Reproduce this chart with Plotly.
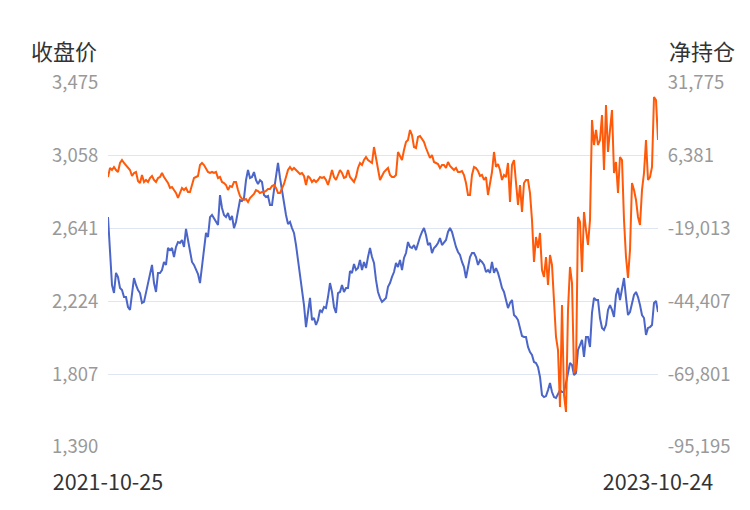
import pandas as pd
import plotly.graph_objects as go

start_date = "2021-10-25"
end_date = "2023-10-24"

# 收盘价 (left axis)
close = [
    2707, 2473, 2318, 2272, 2387, 2364, 2301, 2289, 2249, 2249, 2192, 2175, 2261, 2358, 2318, 2289,
    2272, 2215, 2221, 2272, 2318, 2364, 2433, 2329, 2278, 2387, 2387, 2404, 2450, 2433, 2530, 2518,
    2530, 2478, 2536, 2564, 2559, 2576, 2536, 2639, 2576, 2490, 2450, 2433, 2404, 2381, 2329, 2421,
    2501, 2616, 2593, 2707, 2719, 2702, 2679, 2662, 2833, 2759, 2719, 2707, 2730, 2690, 2713, 2644,
    2679, 2748, 2805, 2799, 2816, 2919, 2977, 2931, 2937, 2965, 2919, 2896, 2919, 2908, 2833, 2822,
    2828, 2776, 2776, 2862, 2948, 3017, 2931, 2851, 2793, 2719, 2667, 2679, 2644, 2616, 2547, 2461,
    2375, 2278, 2203, 2077, 2158, 2244, 2117, 2129, 2089, 2117, 2175, 2163, 2192, 2186, 2249, 2329,
    2278, 2192, 2158, 2272, 2278, 2318, 2278, 2301, 2301, 2398, 2387, 2438, 2404, 2415, 2461, 2404,
    2450, 2415, 2478, 2530, 2478, 2444, 2347, 2278, 2244, 2221, 2232, 2244, 2307, 2329, 2364, 2392,
    2444, 2421, 2461, 2404, 2473, 2501, 2564, 2536, 2530, 2547, 2518, 2559, 2593, 2622, 2644, 2604,
    2547, 2559, 2501, 2530, 2541, 2559, 2587, 2547, 2564, 2576, 2622, 2644, 2622, 2576, 2536, 2507,
    2490, 2450, 2421, 2358, 2421, 2478, 2501, 2501, 2478, 2433, 2461, 2450, 2433, 2392, 2404, 2387,
    2450, 2387, 2415, 2387, 2347, 2301, 2278, 2232, 2186, 2215, 2232, 2146, 2135, 2117, 2077, 2026,
    2020, 2020, 1963, 1934, 1917, 1877, 1871, 1848, 1791, 1688, 1676, 1682, 1716, 1757, 1705, 1676,
    1671, 1699, 1716, 1705, 1705, 1757, 1814, 1871, 1860, 1802, 1814, 1946, 1974, 2003, 1906, 2020,
    2020, 1963, 2158, 2244, 2232, 2232, 2129, 2072, 2060, 2089, 2175, 2203, 2175, 2135, 2261, 2301,
    2232, 2307, 2358, 2244, 2146, 2163, 2221, 2261, 2278, 2249, 2203, 2146, 2129, 2032, 2072, 2077,
    2089, 2215, 2226, 2163,
]

# 净持仓 (right axis)
net = [
    -1012, 2127, 1429, 2476, 1429, 732, 3871, 4917, 3871, 3173, 2476, 1429, -660, 383, 732, -2400,
    -3105, -315, -2756, -2059, -2756, -1361, -660, -2059, -2756, -1361, -1012, 383, -1012, -2059, -3105, -4849,
    -4500, -5547, -6593, -8337, -6593, -4849, -5547, -4849, -6244, -6244, -3803, -1361, -1012, -660, 3173, 3871,
    3173, 2127, 732, 383, 732, 383, 732, -1361, -1012, -2756, -3105, -3803, -5547, -4150, -4500, -2756,
    -2756, -5547, -7640, -8686, -9035, -8686, -9732, -8337, -7640, -6942, -5547, -5896, -6593, -6244, -6244, -5896,
    -5198, -5198, -4150, -3803, -4849, -6593, -6593, -5198, -3454, -1012, 1429, 2476, 1429, 2127, 1429, 383,
    34, 383, -660, -3803, -660, -1361, -2756, -2059, -2756, -2059, -1012, -1361, -1012, -2059, -3803, -1361,
    1429, -1012, -2059, -315, 1429, 383, -1361, -1012, 1429, -1012, -1710, -2756, -1012, 2127, 3871, 3173,
    4917, 5964, 4917, 4220, 3871, 9452, 5615, 732, -2059, -660, 732, 1429, 2127, -315, -1012, -1012,
    -315, 7708, 5964, 4917, 8405, 11196, 11893, 15381, 13637, 9452, 9103, 12940, 13289, 12242, 11196, 9103,
    7359, 5615, 6661, 4220, 3871, 3522, 2127, 3173, 3173, 2127, 4220, 2824, 2127, 1429, 2127, 732,
    732, 1080, -315, -3105, -7291, -7291, -315, 2476, 2127, 1080, -660, -315, -2059, -1012, -7291, -2756,
    732, 7708, 2476, 3522, 1429, -2059, -315, -1012, 3871, -9732, 3173, 4917, -4500, -10779, -3803, -13220,
    -3105, -2059, -2059, -6593, -16011, -30660, -21940, -25777, -20545, -33451, -35892, -28916, -38683, -28219, -31707, -44961,
    -56820, -61355, -81236, -45659, -77051, -82980, -47403, -32404, -37985, -69377, -68331, -14964, -16709, -34148, -13220, -19499,
    -24731, -16011, 18869, 10149, 15381, 10149, 11893, 20613, 1429, 24101, 7708, 15381, 22357, 383, 4220, -6593,
    5964, 4917, -16011, -28916, -36241, -26475, -3105, -5547, -9035, -14964, -17755, -5547, 383, 11893, -2059, -1012,
    2476, 26892, 25845, 11893,
]

left_ticks = [1390, 1807, 2224, 2641, 3058, 3475]
right_ticks = [-95195, -69801, -44407, -19013, 6381, 31775]
x_tick_text = ["2021-10-25", "2023-10-24"]

FONT = "Noto Sans CJK SC"

dates_c = pd.date_range(start_date, end_date, periods=len(close))
dates_n = pd.date_range(start_date, end_date, periods=len(net))

fig = go.Figure()
fig.add_trace(go.Scatter(x=dates_c, y=close, mode="lines", name="收盘价",
                         line=dict(color="#4B66C8", width=2), yaxis="y"))
fig.add_trace(go.Scatter(x=dates_n, y=net, mode="lines", name="净持仓",
                         line=dict(color="#FF5A0A", width=2), yaxis="y2"))

fig.update_layout(
    width=742, height=502,
    margin=dict(l=100, r=92, t=75, b=63, autoexpand=False),
    paper_bgcolor="white", plot_bgcolor="white",
    showlegend=False,
    font=dict(family=FONT),
    xaxis=dict(
        type="date",
        range=[pd.Timestamp(start_date), pd.Timestamp(end_date)],
        tickvals=[pd.Timestamp(start_date), pd.Timestamp(end_date)],
        ticktext=x_tick_text,
        showgrid=False, zeroline=False, showline=False, automargin=False,
        ticks="outside", ticklen=16, tickcolor="rgba(0,0,0,0)",
        tickfont=dict(size=21.5, color="#333333", family=FONT),
    ),
    yaxis=dict(
        range=[left_ticks[0], left_ticks[-1]],
        tickvals=left_ticks,
        ticktext=[f"{v:,}" for v in left_ticks],
        showgrid=True, gridcolor="#E0E6F1", gridwidth=1,
        zeroline=False, showline=False, automargin=False,
        ticks="outside", ticklen=5, tickcolor="rgba(0,0,0,0)",
        tickfont=dict(size=18.5, color="#999999", family=FONT),
    ),
    yaxis2=dict(
        range=[right_ticks[0], right_ticks[-1]],
        tickvals=right_ticks,
        ticktext=[f"{v:,}" for v in right_ticks],
        overlaying="y", side="right",
        showgrid=False, zeroline=False, showline=False, automargin=False,
        ticks="outside", ticklen=5, tickcolor="rgba(0,0,0,0)",
        tickfont=dict(size=18.5, color="#999999", family=FONT),
    ),
    annotations=[
        dict(text="收盘价", xref="paper", yref="paper", x=(99 - 108) / 550, y=1 + (83 - 50) / 364,
             xanchor="right", yanchor="middle", showarrow=False,
             font=dict(size=22, color="#333333", family=FONT)),
        dict(text="净持仓", xref="paper", yref="paper", x=(667 - 108) / 550, y=1 + (83 - 50) / 364,
             xanchor="left", yanchor="middle", showarrow=False,
             font=dict(size=22, color="#333333", family=FONT)),
    ],
)

fig.write_html("out.html")
